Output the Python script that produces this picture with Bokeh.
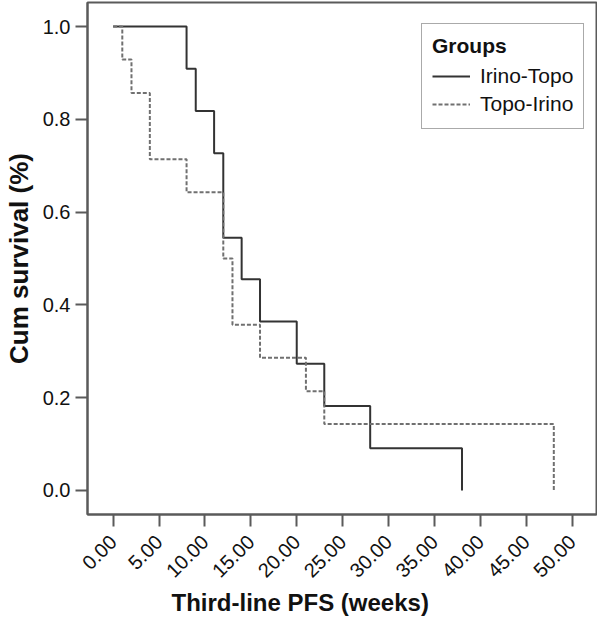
import math
from bokeh.plotting import figure
from bokeh.models import (Range1d, FixedTicker, Legend, LegendItem, Title,
                          PrintfTickFormatter)
from bokeh.embed import file_html
from bokeh.resources import INLINE

# ---- data ----
group_names = ["Irino-Topo", "Topo-Irino"]
irino_times = [0, 8, 9, 11, 12, 14, 16, 20, 23, 28, 38]
irino_surv = [1.0, 0.909, 0.818, 0.727, 0.545, 0.455, 0.364, 0.273, 0.182, 0.091, 0.0]
topo_times = [0, 1, 2, 4, 8, 12, 13, 16, 21, 23, 48]
topo_surv = [1.0, 0.929, 0.857, 0.714, 0.643, 0.5, 0.357, 0.286, 0.214, 0.143, 0.0]
x_ticks = [0, 5, 10, 15, 20, 25, 30, 35, 40, 45, 50]
y_ticks = [0.0, 0.2, 0.4, 0.6, 0.8, 1.0]
x_title = "Third-line PFS (weeks)"
y_title = "Cum survival (%)"
legend_title = "Groups"

FONT = "Liberation Sans"
FRAME = "#5a5a5a"

p = figure(width=597, height=616, output_backend="svg", toolbar_location=None,
           x_range=Range1d(-2.79, 52.65), y_range=Range1d(-0.052, 1.052),
           min_border_left=80, min_border_right=1, min_border_top=2,
           min_border_bottom=102)
p.background_fill_color = "white"
p.border_fill_color = "white"
p.outline_line_color = FRAME
p.outline_line_width = 2
p.grid.visible = False

for ax in (p.xaxis, p.yaxis):
    ax.axis_line_color = FRAME
    ax.axis_line_width = 2
    ax.major_tick_line_color = FRAME
    ax.major_tick_line_width = 2
    ax.major_tick_out = 12
    ax.major_tick_in = 0
    ax.minor_tick_line_color = None
    ax.major_label_text_font = FONT
    ax.major_label_text_font_size = "20px"
    ax.major_label_text_color = "#111111"
    ax.major_label_standoff = 5

p.xaxis.ticker = FixedTicker(ticks=x_ticks)
p.xaxis.formatter = PrintfTickFormatter(format="%.2f")
p.xaxis.major_label_orientation = math.pi / 4
p.xaxis.major_label_standoff = 12
p.yaxis.ticker = FixedTicker(ticks=y_ticks)
p.yaxis.formatter = PrintfTickFormatter(format="%.1f")

p.yaxis.axis_label = y_title
p.yaxis.axis_label_text_font = FONT
p.yaxis.axis_label_text_font_style = "bold"
p.yaxis.axis_label_text_font_size = "26px"
p.yaxis.axis_label_text_color = "#111111"
p.yaxis.axis_label_standoff = 6

r1 = p.step(irino_times, irino_surv, mode="after", line_color="#333333",
            line_width=2)
r2 = p.step(topo_times, topo_surv, mode="after", line_color="#707070",
            line_width=2, line_dash="4 2")

legend = Legend(items=[LegendItem(label=group_names[0], renderers=[r1]),
                       LegendItem(label=group_names[1], renderers=[r2])],
                location=(334, 385))
legend.title = legend_title
legend.title_text_font = FONT
legend.title_text_font_style = "bold"
legend.title_text_font_size = "21px"
legend.title_text_color = "#111111"
legend.title_standoff = 4
legend.label_text_font = FONT
legend.label_text_font_size = "21px"
legend.label_text_color = "#111111"
legend.label_height = 28
legend.glyph_height = 28
legend.glyph_width = 38
legend.label_standoff = 10
legend.spacing = 0
legend.padding = 10
legend.margin = 0
legend.border_line_color = "#555555"
legend.border_line_width = 1.5
legend.background_fill_color = "white"
legend.background_fill_alpha = 1
p.add_layout(legend, "center")

xlab = Title(text=x_title, align="left", offset=84, text_font=FONT,
             text_font_style="bold", text_font_size="24px",
             text_color="#111111", standoff=0)
p.add_layout(xlab, "below")

open("out.html", "w").write(file_html(p, INLINE))
